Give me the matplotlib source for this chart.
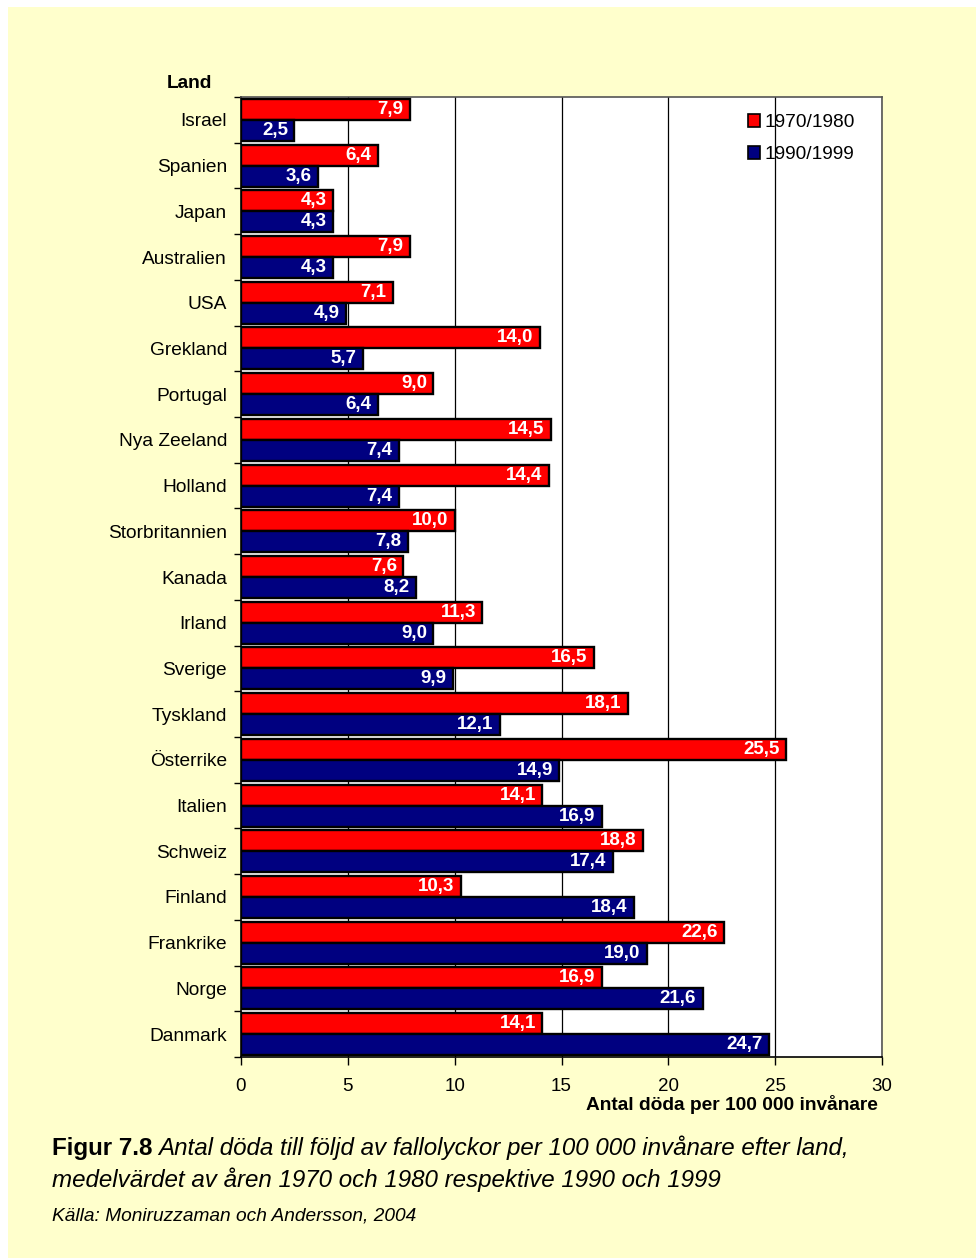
import numpy as np
import matplotlib
matplotlib.use('Agg')
import matplotlib.pyplot as plt
from matplotlib.patches import Rectangle

countries = ['Israel', 'Spanien', 'Japan', 'Australien', 'USA', 'Grekland', 'Portugal',
             'Nya Zeeland', 'Holland', 'Storbritannien', 'Kanada', 'Irland', 'Sverige',
             'Tyskland', 'Österrike', 'Italien', 'Schweiz', 'Finland', 'Frankrike',
             'Norge', 'Danmark']
val_1970_80 = [7.9, 6.4, 4.3, 7.9, 7.1, 14.0, 9.0, 14.5, 14.4, 10.0, 7.6, 11.3, 16.5,
               18.1, 25.5, 14.1, 18.8, 10.3, 22.6, 16.9, 14.1]
val_1990_99 = [2.5, 3.6, 4.3, 4.3, 4.9, 5.7, 6.4, 7.4, 7.4, 7.8, 8.2, 9.0, 9.9,
               12.1, 14.9, 16.9, 17.4, 18.4, 19.0, 21.6, 24.7]
series_names = ['1970/1980', '1990/1999']
xticks = [0, 5, 10, 15, 20, 25, 30]

RED = '#FF0000'
NAVY = '#000080'
BG = '#FFFFCC'

plt.rcParams['font.family'] = ['Liberation Sans', 'DejaVu Sans']


def fmt(v):
    return ('%.1f' % v).replace('.', ',')


def main():
    fig = plt.figure(figsize=(9.76, 12.58), dpi=100, facecolor='white')
    # yellow panel (white strip top/left)
    fig.patches.append(Rectangle((8 / 976, 0), 1, 1 - 7 / 1258, transform=fig.transFigure,
                                 facecolor=BG, edgecolor='none', zorder=-10))

    ax = fig.add_axes([241 / 976, 1 - 1057 / 1258, 641 / 976, 960 / 1258])
    ax.set_facecolor('white')

    y = np.arange(len(countries))
    h = 0.46
    ax.barh(y - h / 2, val_1970_80, height=h, color=RED, edgecolor='black', linewidth=1.7,
            label=series_names[0], zorder=3)
    ax.barh(y + h / 2, val_1990_99, height=h, color=NAVY, edgecolor='black', linewidth=1.7,
            label=series_names[1], zorder=3)

    for yi, v in zip(y, val_1970_80):
        ax.text(v - 0.3, yi - h / 2, fmt(v), ha='right', va='center', color='white',
                fontsize=13.5, fontweight='bold', zorder=4)
    for yi, v in zip(y, val_1990_99):
        ax.text(v - 0.3, yi + h / 2, fmt(v), ha='right', va='center', color='white',
                fontsize=13.5, fontweight='bold', zorder=4)

    ax.set_xlim(0, 30)
    ax.set_ylim(len(countries) - 0.5, -0.5)
    ax.set_xticks(xticks)
    ax.set_xticklabels([str(t) for t in xticks], fontsize=13.5)
    ax.tick_params(axis='x', direction='out', length=6, width=1, pad=9)
    for t in xticks[1:]:
        ax.axvline(t, color='black', linewidth=0.9, zorder=1)

    ax.set_yticks(y)
    ax.set_yticklabels(countries, fontsize=13.8)
    ax.tick_params(axis='y', length=0, pad=10)
    ax.set_yticks(np.arange(len(countries) + 1) - 0.5, minor=True)
    ax.tick_params(axis='y', which='minor', direction='out', length=5, width=1)

    for s in ['top', 'right']:
        ax.spines[s].set_color('#555555')
        ax.spines[s].set_linewidth(1.2)
    for s in ['left', 'bottom']:
        ax.spines[s].set_color('black')
        ax.spines[s].set_linewidth(1.2)

    leg = ax.legend(loc='upper right', bbox_to_anchor=(0.985, 1.0), frameon=False,
                    fontsize=13.8, handlelength=0.65, handleheight=0.65, handletextpad=0.25,
                    labelspacing=0.75)
    for p in leg.get_patches():
        p.set_linewidth(1.2)

    fig.text(189 / 976, 1 - 83 / 1258, 'Land', ha='center', va='center',
             fontsize=13.8, fontweight='bold')
    fig.text(878 / 976, 1 - 1105 / 1258, 'Antal döda per 100 000 invånare', ha='right',
             va='center', fontsize=13.8, fontweight='bold')

    # caption
    renderer = fig.canvas.get_renderer()
    t1 = fig.text(52 / 976, 1 - 1148 / 1258, 'Figur 7.8', ha='left', va='center',
                  fontsize=17.4, fontweight='bold')
    bb = t1.get_window_extent(renderer=renderer)
    x2 = (bb.x1 + 6) / fig.bbox.width
    fig.text(x2, 1 - 1148 / 1258, 'Antal döda till följd av fallolyckor per 100 000 invånare efter land,',
             ha='left', va='center', fontsize=17.4, style='italic')
    fig.text(52 / 976, 1 - 1180 / 1258, 'medelvärdet av åren 1970 och 1980 respektive 1990 och 1999',
             ha='left', va='center', fontsize=17.4, style='italic')
    fig.text(52 / 976, 1 - 1216 / 1258, 'Källa: Moniruzzaman och Andersson, 2004',
             ha='left', va='center', fontsize=13.8, style='italic')

    fig.savefig('out.png', dpi=100, facecolor=fig.get_facecolor())


if __name__ == '__main__':
    main()
